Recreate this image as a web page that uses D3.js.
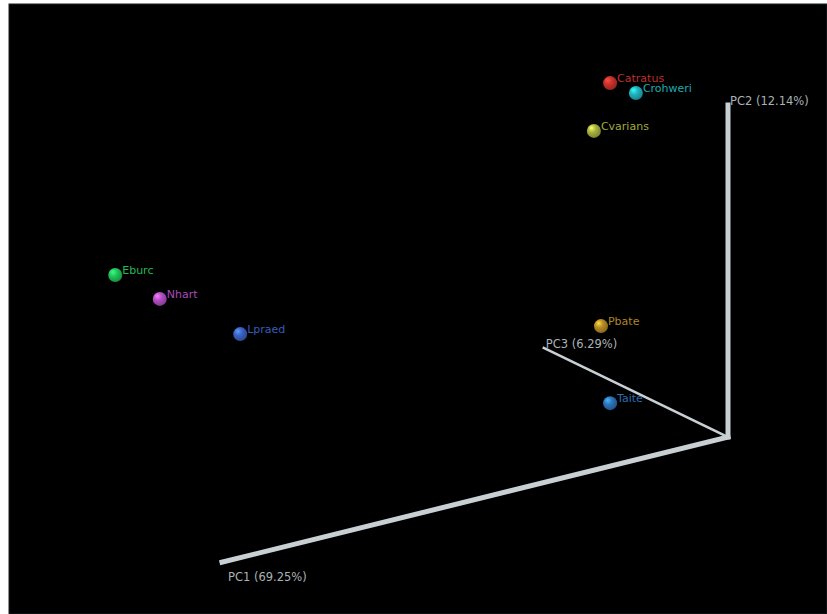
<!DOCTYPE html>
<html>
<head>
<meta charset="utf-8">
<script src="https://cdn.jsdelivr.net/npm/d3@7"></script>
<style>
  body { margin: 0; background: #fff; }
  text { font-family: 'DejaVu Sans', sans-serif; }
</style>
</head>
<body>
<div id="chart"></div>
<script>
  // sample names and their projected positions (view units, axes origin = 0,0)
  var samples = ['Catratus', 'Crohweri', 'Cvarians', 'Eburc', 'Nhart', 'Lpraed', 'Pbate', 'Taite'];
  var projX = [-0.233, -0.182, -0.265, -1.211, -1.123, -0.964, -0.251, -0.233];
  var projY = [1.066, 1.036, 0.922, 0.488, 0.416, 0.310, 0.334, 0.102];
  var colors = ['#c8322b', '#1fb3bd', '#a9b23f', '#22c458', '#b24fc4', '#3a62c4', '#b88c26', '#2d74b8'];

  // axis ends in the same view units
  var axisNames = ['PC1 (69.25%)', 'PC2 (12.14%)', 'PC3 (6.29%)'];
  var axisEndX = [-1, 0, -0.364];
  var axisEndY = [-0.377, 1, 0.268];
  var axisWidth = [5, 5, 2.5];

  var width = 827;
  var height = 614;

  var x = d3.scaleLinear().domain([-1, 0]).range([222, 728]);
  var y = d3.scaleLinear().domain([0, 1]).range([437, 105]);

  var svg = d3.select('#chart')
    .append('svg')
    .attr('width', width)
    .attr('height', height);

  svg.append('rect')
    .attr('x', 9)
    .attr('y', 4)
    .attr('width', width - 9)
    .attr('height', height - 4)
    .attr('fill', '#000')
    .attr('stroke', '#1c1f20')
    .attr('stroke-width', 1);

  // sphere shading
  var defs = svg.append('defs');
  colors.forEach(function(c, i) {
    var g = defs.append('radialGradient')
      .attr('id', 'ball' + i)
      .attr('cx', '40%').attr('cy', '38%').attr('r', '65%')
      .attr('fx', '32%').attr('fy', '28%');
    g.append('stop').attr('offset', '0%').attr('stop-color', d3.color(c).brighter(1.3));
    g.append('stop').attr('offset', '45%').attr('stop-color', c);
    g.append('stop').attr('offset', '100%').attr('stop-color', d3.color(c).darker(0.9));
  });

  var axes = axisNames.map(function(name, i) {
    return { name: name, x: axisEndX[i], y: axisEndY[i], w: axisWidth[i] };
  });

  svg.selectAll('.axis')
    .data(axes)
    .enter()
    .append('line')
    .attr('class', 'axis')
    .attr('x1', x(0))
    .attr('y1', y(0))
    .attr('x2', function(d) { return x(d.x); })
    .attr('y2', function(d) { return y(d.y); })
    .attr('stroke', '#c8d0d4')
    .attr('stroke-width', function(d) { return d.w; })
    .attr('stroke-linecap', 'square');

  // axis labels: PC1 below its end, the others above-right
  svg.selectAll('.axis-label')
    .data(axes)
    .enter()
    .append('text')
    .attr('class', 'axis-label')
    .attr('x', function(d, i) { return x(d.x) + (i === 0 ? 6 : 2); })
    .attr('y', function(d, i) { return y(d.y) + (i === 0 ? 19 : 0); })
    .attr('fill', '#a9b2b6')
    .attr('font-size', 11.5)
    .text(function(d) { return d.name; });

  var points = samples.map(function(s, i) {
    return { name: s, x: projX[i], y: projY[i], color: colors[i], i: i };
  });

  svg.selectAll('.pt')
    .data(points)
    .enter()
    .append('circle')
    .attr('class', 'pt')
    .attr('cx', function(d) { return x(d.x); })
    .attr('cy', function(d) { return y(d.y); })
    .attr('r', 7)
    .attr('fill', function(d) { return 'url(#ball' + d.i + ')'; });

  svg.selectAll('.pt-label')
    .data(points)
    .enter()
    .append('text')
    .attr('class', 'pt-label')
    .attr('x', function(d) { return x(d.x) + 7; })
    .attr('y', function(d) { return y(d.y) - 1; })
    .attr('fill', function(d) { return d3.color(d.color).darker(0.15); })
    .attr('font-size', 11)
    .text(function(d) { return d.name; });
</script>
</body>
</html>
